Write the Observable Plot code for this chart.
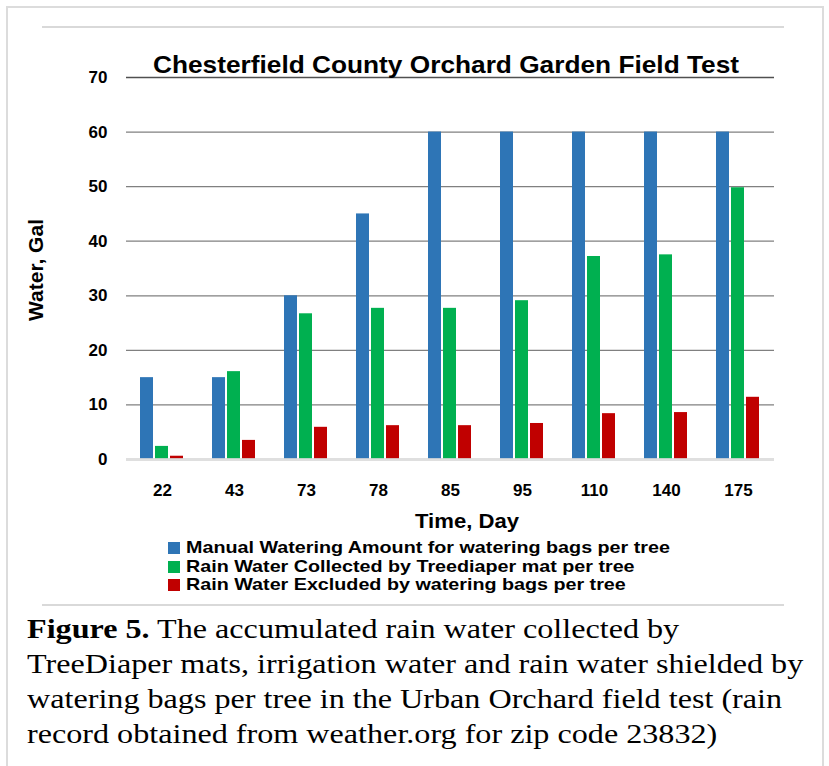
<!DOCTYPE html>
<html>
<head>
<meta charset="utf-8">
<script src="https://cdn.jsdelivr.net/npm/d3@7"></script>
<script src="https://cdn.jsdelivr.net/npm/@observablehq/plot@0.6"></script>
<style>
  html, body { margin: 0; padding: 0; background: #fff; }
  body { width: 829px; height: 766px; position: relative; overflow: hidden; font-family: "Liberation Sans", Arial, sans-serif; }
  #frame { position: absolute; left: 6px; top: 6px; width: 814px; height: 780px; border-left: 2px solid #dcdcdc; border-top: 2px solid #dcdcdc; border-right: 2px solid #dcdcdc; }
  #chartbox { position: absolute; left: 42px; top: 26px; width: 742px; height: 576px; border-top: 2px solid #d9d9d9; border-bottom: 2px solid #d9d9d9; }
  #chart { position: absolute; left: 0; top: 0; }
  #chart svg { overflow: visible; }
  #legend { position: absolute; left: 168px; top: 539px; font-weight: bold; font-size: 17px; color: #000; }
  .row { height: 18.5px; line-height: 18.5px; white-space: nowrap; display: flex; align-items: center; }
  .sw { width: 12px; height: 12px; margin-right: 6px; flex: none; }
  .lt { display: inline-block; transform: scaleX(1.16); transform-origin: left center; }
  #caption { position: absolute; left: 27px; top: 611px; font-family: "Liberation Serif", "Times New Roman", serif; font-size: 28px; line-height: 35px; color: #000; white-space: nowrap; transform: scaleX(1.148); transform-origin: left top; }
</style>
</head>
<body>
<div id="frame"></div>
<div id="chartbox"></div>
<div id="chart"></div>
<div id="legend"></div>
<div id="caption"><b>Figure 5.</b> The accumulated rain water collected by<br>TreeDiaper mats, irrigation water and rain water shielded by<br>watering bags per tree in the Urban Orchard field test (rain<br>record obtained from weather.org for zip code 23832)</div>
<script>
const title = "Chesterfield County Orchard Garden Field Test";
const yLabel = "Water, Gal";
const xLabel = "Time, Day";
const days = ["22", "43", "73", "78", "85", "95", "110", "140", "175"];
const series = [
  "Manual Watering Amount for watering bags per tree",
  "Rain Water Collected by Treediaper mat per tree",
  "Rain Water Excluded by watering bags per tree"
];
const manual = [15, 15, 30, 45, 60, 60, 60, 60, 60];
const collected = [2.4, 16.1, 26.7, 27.7, 27.7, 29.1, 37.2, 37.5, 49.8];
const excluded = [0.6, 3.5, 5.9, 6.2, 6.2, 6.6, 8.4, 8.6, 11.4];
const yTicks = [0, 10, 20, 30, 40, 50, 60, 70];
const colors = ["#2E75B6", "#00B050", "#C00000"];

const valuesBySeries = [manual, collected, excluded];
const data = [];
days.forEach((d, i) => {
  series.forEach((s, j) => data.push({day: d, series: s, value: valuesBySeries[j][i]}));
});

const chart = Plot.plot({
  width: 829,
  height: 540,
  marginLeft: 125,
  marginRight: 54,
  marginTop: 77,
  marginBottom: 81,
  style: {fontFamily: '"Liberation Sans", Arial, sans-serif', fontWeight: "bold", fontSize: "17px", color: "#000", background: "transparent"},
  fx: {domain: days, padding: 0},
  x: {domain: series, paddingInner: 0.12, paddingOuter: 0.92, axis: null},
  y: {domain: [0, 70], axis: null},
  color: {domain: series, range: colors},
  marks: [
    Plot.ruleY(yTicks.filter(t => t > 0 && t < 70), {y: d => d, stroke: "#808080", strokeWidth: 1.3}),
    Plot.ruleY([70], {y: d => d, stroke: "#505050", strokeWidth: 1.3}),
    Plot.barY(data, {fx: "day", x: "series", y: "value", fill: "series"}),
    Plot.ruleY([0], {stroke: "#d9d9d9", strokeWidth: 3, strokeOpacity: 0.85}),
    Plot.axisY({ticks: yTicks, tickSize: 0, tickPadding: 19, label: null}),
    Plot.axisFx({anchor: "bottom", tickSize: 0, tickPadding: 24, label: null})
  ]
});
document.getElementById("chart").appendChild(chart);

const svg = d3.select(chart);
svg.append("text")
  .attr("transform", "translate(35,270) rotate(-90)")
  .attr("text-anchor", "middle")
  .attr("dy", "0.36em")
  .attr("font-size", 21)
  .attr("font-weight", "bold")
  .attr("fill", "#000")
  .attr("textLength", 102)
  .attr("lengthAdjust", "spacingAndGlyphs")
  .text(yLabel);

svg.append("text")
  .attr("x", 467)
  .attr("y", 528)
  .attr("text-anchor", "middle")
  .attr("font-size", 20)
  .attr("font-weight", "bold")
  .attr("fill", "#000")
  .attr("textLength", 104)
  .attr("lengthAdjust", "spacingAndGlyphs")
  .text(xLabel);

svg.append("text")
  .attr("x", 446)
  .attr("y", 73)
  .attr("text-anchor", "middle")
  .attr("font-size", 24)
  .attr("font-weight", "bold")
  .attr("fill", "#000")
  .attr("textLength", 586)
  .attr("lengthAdjust", "spacingAndGlyphs")
  .text(title);

const legend = d3.select("#legend");
series.forEach((s, i) => {
  const row = legend.append("div").attr("class", "row");
  row.append("span").attr("class", "sw").style("background", colors[i]);
  row.append("span").attr("class", "lt").text(s);
});
</script>
</body>
</html>
